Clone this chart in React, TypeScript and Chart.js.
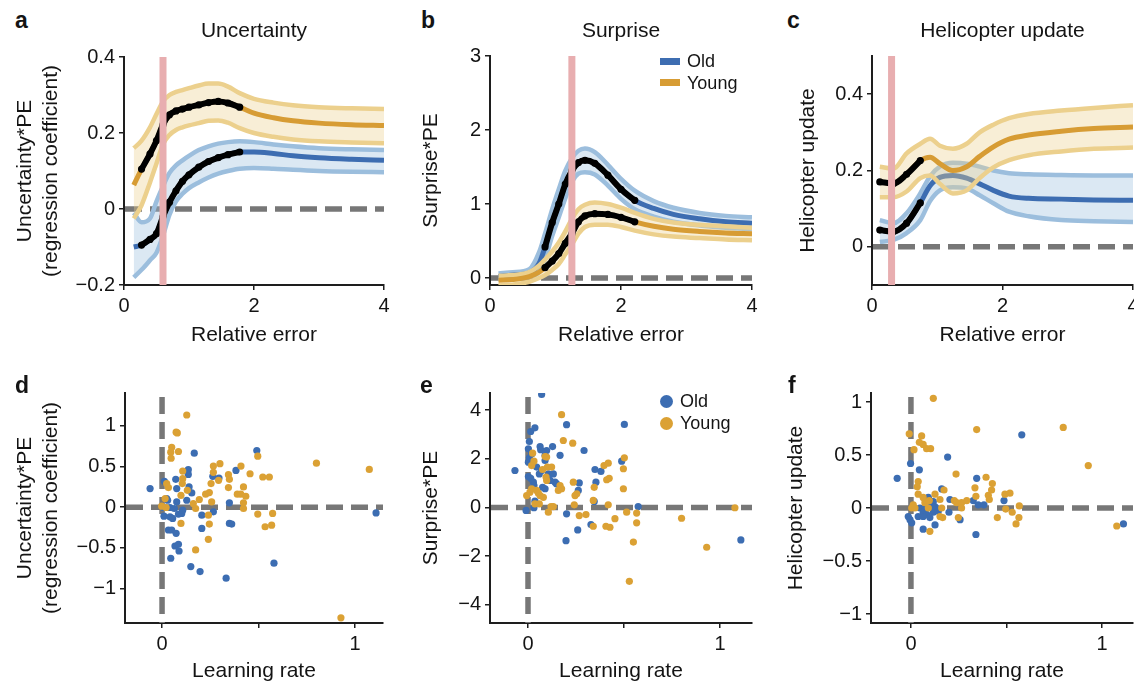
import React, { useEffect, useRef } from 'react';
import { Chart, registerables } from 'chart.js';

Chart.register(...registerables);

const FONT = '"Liberation Sans", Arial, Helvetica, sans-serif';
const TEXT = '#141414';
const AXIS = '#1e1e1e';
const OLD = '#3d6db1';
const OLD_CI = '#9cbedd';
const OLD_FILL = 'rgba(156,190,221,0.36)';
const YOUNG = '#d79c34';
const YOUNG_CI = '#ecd08d';
const YOUNG_FILL = 'rgba(236,208,141,0.36)';
const OLD_DOT = '#3c6db2';
const YOUNG_DOT = '#dba134';
const PINK = '#e8aeb0';
const DASH = '#777777';

// ---------- Panel a: Uncertainty ----------
const relErrA = [0.15, 0.27, 0.4, 0.5, 0.6, 0.7, 0.8, 0.9, 1.0, 1.15, 1.3, 1.45, 1.6, 1.78, 2.0, 2.3, 2.6, 3.0, 3.5, 4.0];
const oldMeanA = [-0.1, -0.095, -0.08, -0.065, -0.02, 0.018, 0.048, 0.073, 0.09, 0.11, 0.125, 0.135, 0.143, 0.15, 0.15, 0.146, 0.14, 0.135, 0.131, 0.128];
const oldUpA = [-0.01, -0.035, -0.025, 0.02, 0.06, 0.095, 0.115, 0.128, 0.14, 0.155, 0.165, 0.172, 0.176, 0.178, 0.176, 0.17, 0.165, 0.16, 0.157, 0.155];
const oldLoA = [-0.18, -0.16, -0.135, -0.115, -0.07, -0.015, 0.02, 0.04, 0.055, 0.07, 0.083, 0.093, 0.1, 0.106, 0.108, 0.106, 0.103, 0.1, 0.098, 0.097];
const youngMeanA = [0.063, 0.105, 0.145, 0.18, 0.222, 0.248, 0.258, 0.263, 0.268, 0.274, 0.28, 0.283, 0.279, 0.268, 0.252, 0.24, 0.232, 0.226, 0.222, 0.22];
const youngUpA = [0.16, 0.18, 0.215, 0.25, 0.283, 0.3, 0.308, 0.313, 0.318, 0.325, 0.33, 0.33, 0.322, 0.305, 0.29, 0.28, 0.273, 0.268, 0.265, 0.263];
const youngLoA = [-0.025, 0.01, 0.07, 0.12, 0.17, 0.195, 0.208, 0.215, 0.22, 0.226, 0.232, 0.233, 0.227, 0.213, 0.2, 0.19, 0.183, 0.178, 0.175, 0.173];
const sigOldA = [0.27, 1.78];
const sigYoungA = [0.27, 1.78];
const thresholdA = 0.6;

// ---------- Panel b: Surprise ----------
const relErrB = [0.13, 0.35, 0.6, 0.75, 0.84, 0.95, 1.05, 1.15, 1.25, 1.35, 1.45, 1.6, 1.8, 2.0, 2.21, 2.5, 2.8, 3.2, 3.6, 4.0];
const oldMeanB = [0.02, 0.04, 0.07, 0.2, 0.42, 0.75, 1.0, 1.27, 1.45, 1.56, 1.59, 1.55, 1.39, 1.2, 1.05, 0.94, 0.86, 0.8, 0.76, 0.74];
const oldUpB = [0.06, 0.08, 0.12, 0.35, 0.6, 0.93, 1.2, 1.45, 1.62, 1.72, 1.75, 1.7, 1.53, 1.34, 1.18, 1.04, 0.95, 0.88, 0.84, 0.82];
const oldLoB = [-0.02, 0.0, 0.02, 0.08, 0.25, 0.57, 0.82, 1.08, 1.3, 1.41, 1.43, 1.4, 1.25, 1.07, 0.93, 0.83, 0.76, 0.71, 0.68, 0.66];
const youngMeanB = [-0.03, -0.02, 0.02, 0.08, 0.14, 0.23, 0.33, 0.47, 0.6, 0.76, 0.84, 0.87, 0.86, 0.82, 0.76, 0.7, 0.66, 0.63, 0.61, 0.6];
const youngUpB = [0.03, 0.04, 0.08, 0.17, 0.25, 0.36, 0.48, 0.63, 0.8, 0.93, 0.99, 1.02, 1.0, 0.95, 0.88, 0.8, 0.75, 0.72, 0.7, 0.68];
const youngLoB = [-0.1, -0.09, -0.05, 0.0, 0.04, 0.11, 0.19, 0.32, 0.45, 0.6, 0.69, 0.72, 0.72, 0.69, 0.64, 0.59, 0.56, 0.54, 0.52, 0.51];
const sigOldB = [0.84, 2.21];
const sigYoungB = [0.84, 2.21];
const thresholdB = 1.25;

// ---------- Panel c: Helicopter update ----------
const relErrC = [0.12, 0.33, 0.53, 0.74, 0.89, 1.04, 1.24, 1.45, 1.65, 1.86, 2.1, 2.4, 2.9, 3.4, 4.0];
const oldMeanC = [0.044, 0.04, 0.062, 0.115, 0.16, 0.182, 0.187, 0.18, 0.165, 0.148, 0.133, 0.127, 0.125, 0.123, 0.122];
const oldUpC = [0.07, 0.062, 0.088, 0.14, 0.185, 0.21, 0.22, 0.218, 0.21, 0.2, 0.193, 0.19, 0.188, 0.187, 0.187];
const oldLoC = [0.013, 0.018, 0.036, 0.07, 0.12, 0.148, 0.156, 0.153, 0.135, 0.114, 0.092, 0.08, 0.07, 0.067, 0.065];
const youngMeanC = [0.17, 0.166, 0.19, 0.226, 0.235, 0.218, 0.2, 0.21, 0.237, 0.262, 0.282, 0.293, 0.303, 0.31, 0.314];
const youngUpC = [0.21, 0.205, 0.245, 0.27, 0.283, 0.265, 0.257, 0.27, 0.3, 0.32, 0.337, 0.348, 0.357, 0.364, 0.371];
const youngLoC = [0.13, 0.13, 0.145, 0.18, 0.187, 0.165, 0.14, 0.148, 0.18, 0.208, 0.227, 0.24, 0.25, 0.257, 0.26];
const sigOldC = [0.12, 0.74];
const sigYoungC = [0.12, 0.74];
const thresholdC = 0.3;

// ---------- Panel d: Uncertainty*PE vs learning rate ----------
const lrOldD = [-0.062, 0.012, 0.024, 0.007, 0.01, 0.029, 0.041, 0.041, 0.055, 0.033, 0.05, 0.071, 0.076, 0.076, 0.064, 0.085, 0.102, 0.073, 0.067, 0.085, 0.088, 0.045, 0.107, 0.128, 0.136, 0.136, 0.14, 0.154, 0.167, 0.206, 0.206, 0.149, 0.197, 0.263, 0.295, 0.266, 0.349, 0.349, 0.361, 0.332, 0.383, 0.491, 0.58, 1.109];
const uncOldD = [0.228, 0.317, 0.106, -0.004, -0.11, 0.085, -0.004, -0.118, -0.138, -0.28, -0.28, 0.341, 0.228, 0.065, -0.016, -0.085, -0.077, -0.321, -0.476, -0.455, -0.537, -0.626, -0.037, 0.085, 0.46, 0.402, 0.248, 0.175, 0.662, -0.098, -0.26, -0.728, -0.789, 0.378, 0.357, -0.057, 0.053, -0.199, -0.207, -0.87, 0.451, 0.695, -0.687, -0.07];
const lrYoungD = [0.128, 0.073, 0.079, 0.05, 0.085, 0.045, 0.047, 0.107, 0.107, 0.105, 0.024, 0.033, 0.016, 0.021, -0.002, 0.098, 0.098, 0.131, 0.162, 0.174, 0.193, 0.226, 0.245, 0.266, 0.266, 0.3, 0.254, 0.257, 0.24, 0.245, 0.24, 0.174, 0.293, 0.344, 0.349, 0.344, 0.409, 0.39, 0.408, 0.434, 0.422, 0.422, 0.422, 0.456, 0.496, 0.496, 0.522, 0.556, 0.534, 0.568, 0.573, 0.8, 1.074, 0.927];
const uncYoungD = [1.13, 0.92, 0.91, 0.735, 0.683, 0.675, 0.6, 0.443, 0.35, 0.289, 0.289, 0.24, 0.106, -0.004, 0.012, 0.146, -0.199, 0.207, 0.045, -0.016, 0.094, 0.159, 0.179, 0.427, 0.504, 0.533, 0.289, 0.065, -0.098, -0.207, -0.394, -0.524, 0.329, 0.398, 0.341, 0.24, 0.504, 0.159, 0.159, 0.134, 0.248, 0.053, -0.016, 0.41, 0.626, -0.085, 0.37, 0.37, -0.24, -0.22, -0.077, 0.54, 0.463, -1.357];

// ---------- Panel e: Surprise*PE vs learning rate ----------
const lrOldE = [0.071, -0.068, -0.01, 0.014, 0.036, 0.007, 0.002, 0.007, 0.002, 0.019, 0.002, 0.014, 0.028, 0.031, 0.045, 0.059, 0.063, 0.066, 0.071, 0.076, 0.089, 0.089, 0.097, 0.106, 0.115, 0.089, 0.128, 0.132, 0.141, 0.149, 0.167, 0.201, 0.201, 0.262, 0.267, 0.259, 0.292, 0.349, 0.354, 0.38, 0.345, 0.328, 0.198, 0.488, 0.502, 0.574, 1.109, 0.036, 0.031];
const surOldE = [4.64, 1.52, -0.12, 3.12, 3.27, 2.71, 2.41, 2.04, 1.86, 2.2, 1.27, 1.2, 1.04, 0.9, 1.66, 1.38, 2.5, 2.37, 1.52, 0.83, 2.14, 1.93, 2.34, 1.38, 1.11, 0.77, 2.5, 1.38, 1.04, 0.97, 2.14, 3.4, -0.26, 0.7, 1.01, -0.92, 2.34, 1.56, 1.04, 1.48, 0.25, -0.7, -1.36, 1.9, 3.41, 0.04, -1.33, 0.26, -0.01];
const lrYoungE = [0.175, 0.184, 0.233, 0.024, 0.031, 0.019, 0.089, 0.097, 0.076, 0.101, 0.123, 0.094, 0.097, 0.167, 0.175, 0.158, -0.007, 0.01, 0.019, 0.045, 0.054, 0.063, 0.08, 0.036, 0.059, 0.12, 0.132, 0.106, 0.236, 0.254, 0.245, 0.241, 0.267, 0.302, 0.34, 0.345, 0.396, 0.418, 0.41, 0.423, 0.34, 0.406, 0.427, 0.418, 0.453, 0.497, 0.502, 0.497, 0.514, 0.566, 0.566, 0.549, 0.528, 0.8, 0.931, 1.078];
const surYoungE = [3.81, 2.75, 2.64, 2.23, 1.9, 1.72, 2.09, 2.07, 1.56, 1.66, 1.66, 1.25, 1.11, 0.9, 0.77, 0.7, 0.49, 0.63, 0.77, 0.7, 0.59, 0.49, 0.42, 0.15, 0.15, 0.04, 0.04, -0.19, 1.04, 0.56, 0.49, 0.11, -0.33, -0.29, 0.29, 0.83, 1.72, 1.82, 1.14, 1.2, -0.77, -0.77, -0.81, 0.11, -0.46, 1.59, 2.04, 0.77, -0.19, -0.23, -0.63, -1.42, -3.03, -0.44, -1.63, -0.01];

// ---------- Panel f: Helicopter update vs learning rate ----------
const lrOldF = [-0.002, 0.044, -0.072, 0.192, 0.161, 0.344, 0.091, 0.099, 0.117, 0.108, 0.047, 0.073, 0.064, 0.082, 0.117, 0.143, 0.038, -0.014, -0.005, 0.004, 0.064, 0.099, 0.126, 0.126, 0.064, 0.199, 0.257, 0.326, 0.352, 0.382, 0.487, 0.34, 0.58, 1.112, 0.204];
const updOldF = [0.42, 0.36, 0.28, 0.48, 0.18, 0.28, 0.1, 0.07, 0.06, 0.02, 0.0, -0.01, -0.04, -0.06, -0.04, -0.03, -0.08, -0.08, -0.11, -0.14, -0.08, -0.09, 0.01, -0.16, -0.2, -0.04, -0.11, 0.07, 0.03, 0.03, 0.07, -0.25, 0.69, -0.15, 0.08];
const lrYoungF = [0.117, 0.344, 0.797, 0.928, -0.009, 0.056, 0.016, 0.044, 0.064, 0.082, 0.103, 0.038, 0.033, 0.038, 0.064, 0.073, 0.012, 0.004, 0.021, 0.096, 0.091, 0.126, 0.152, 0.161, 0.173, 0.152, 0.166, 0.099, 0.236, 0.227, 0.239, 0.265, 0.265, 0.248, 0.292, 0.335, 0.34, 0.393, 0.405, 0.41, 0.422, 0.426, 0.492, 0.518, 0.496, 0.452, 0.53, 0.55, 0.567, 0.565, 1.077];
const updYoungF = [1.035, 0.74, 0.76, 0.4, 0.7, 0.68, 0.55, 0.62, 0.6, 0.56, 0.56, 0.25, 0.2, 0.13, 0.1, 0.05, 0.03, 0.0, 0.0, 0.07, 0.0, 0.13, 0.08, 0.0, 0.17, -0.08, -0.09, -0.22, 0.32, 0.07, 0.05, 0.05, 0.0, -0.09, 0.07, 0.19, 0.11, 0.29, 0.12, 0.08, 0.17, 0.23, 0.13, 0.14, -0.01, -0.09, -0.04, -0.15, 0.02, -0.09, -0.17];

// ---------- ticks ----------
const relErrTicks = [0, 2, 4];
const relErrTickLabels = ['0', '2', '4'];
const lrTicks = [0, 0.5, 1];
const lrTickLabels = ['0', '', '1'];
const yTicksA = [-0.2, 0, 0.2, 0.4];
const yTickLabelsA = ['\u22120.2', '0', '0.2', '0.4'];
const yTicksB = [0, 1, 2, 3];
const yTickLabelsB = ['0', '1', '2', '3'];
const yTicksC = [0, 0.2, 0.4];
const yTickLabelsC = ['0', '0.2', '0.4'];
const yTicksD = [-1, -0.5, 0, 0.5, 1];
const yTickLabelsD = ['\u22121', '\u22120.5', '0', '0.5', '1'];
const yTicksE = [-4, -2, 0, 2, 4];
const yTickLabelsE = ['\u22124', '\u22122', '0', '2', '4'];
const yTicksF = [-1, -0.5, 0, 0.5, 1];
const yTickLabelsF = ['\u22121', '\u22120.5', '0', '0.5', '1'];

type Frame = {
  cx: number; cy: number; cw: number; ch: number;
  L: number; T: number; R: number; B: number;
  xMin: number; xMax: number; yMin: number; yMax: number;
  xTicks: number[]; xTickLabels: string[]; yTicks: number[]; yTickLabels: string[];
  xTitle: string; yTitle: string | string[]; yTitlePad: number; xTitlePad: number;
};

const refLines = {
  id: 'refLines',
  beforeDatasetsDraw(chart: any, _a: any, o: any) {
    const { ctx, chartArea: a, scales } = chart;
    ctx.save();
    ctx.beginPath();
    ctx.rect(a.left, a.top, a.right - a.left, a.bottom - a.top);
    ctx.clip();
    ctx.strokeStyle = DASH;
    ctx.lineWidth = 5.5;
    ctx.setLineDash([17, 8]);
    if (o.hLine !== undefined && o.hLine !== null) {
      const y = scales.y.getPixelForValue(o.hLine);
      ctx.beginPath();
      ctx.moveTo(a.left + 1, y);
      ctx.lineTo(a.right + 20, y);
      ctx.stroke();
    }
    if (o.vLine !== undefined && o.vLine !== null) {
      const x = scales.x.getPixelForValue(o.vLine);
      ctx.beginPath();
      ctx.moveTo(x, a.top + 4);
      ctx.lineTo(x, a.bottom);
      ctx.stroke();
    }
    ctx.restore();
  },
  afterDatasetsDraw(chart: any, _a: any, o: any) {
    if (o.band === undefined || o.band === null) return;
    const { ctx, chartArea: a, scales } = chart;
    const x = scales.x.getPixelForValue(o.band);
    ctx.save();
    ctx.fillStyle = PINK;
    ctx.fillRect(x - 3.5, a.top, 7, a.bottom - a.top);
    ctx.restore();
  },
};

function scalesFor(f: Frame) {
  const tickFont = { family: FONT, size: 20 };
  const titleFont = { family: FONT, size: 21, lineHeight: 1.25 };
  const grid = { display: true, drawOnChartArea: false, drawTicks: true, tickLength: 5, color: AXIS, lineWidth: 1.5 };
  const border = { display: true, color: AXIS, width: 2 };
  return {
    x: {
      type: 'linear',
      min: f.xMin,
      max: f.xMax,
      afterBuildTicks: (s: any) => { s.ticks = f.xTicks.map((v) => ({ value: v })); },
      afterFit: (s: any) => { s.height = f.cy + f.ch - f.B; },
      ticks: { autoSkip: false, maxRotation: 0, minRotation: 0, padding: 4, color: TEXT, font: tickFont, callback: (_v: any, i: number) => f.xTickLabels[i] },
      grid,
      border,
      title: { display: true, text: f.xTitle, color: TEXT, font: titleFont, padding: { top: 0, bottom: f.xTitlePad } },
    },
    y: {
      type: 'linear',
      min: f.yMin,
      max: f.yMax,
      afterBuildTicks: (s: any) => { s.ticks = f.yTicks.map((v) => ({ value: v })); },
      afterFit: (s: any) => { s.width = f.L - f.cx; },
      ticks: { autoSkip: false, padding: 4, color: TEXT, font: tickFont, callback: (_v: any, i: number) => f.yTickLabels[i] },
      grid,
      border,
      title: { display: true, text: f.yTitle, color: TEXT, font: titleFont, padding: { top: f.yTitlePad, bottom: 0 } },
    },
  };
}

function baseOptions(f: Frame, refOpts: any) {
  return {
    responsive: false,
    maintainAspectRatio: false,
    animation: false,
    devicePixelRatio: 1,
    events: [],
    layout: { padding: { left: 0, bottom: 0, top: f.T - f.cy, right: f.cx + f.cw - f.R } },
    plugins: { legend: { display: false }, tooltip: { enabled: false }, refLines: refOpts },
    scales: scalesFor(f),
  };
}

type BandSeries = {
  x: number[];
  oldMean: number[]; oldUp: number[]; oldLo: number[];
  youngMean: number[]; youngUp: number[]; youngLo: number[];
  sigOld: number[]; sigYoung: number[]; threshold: number;
};

function bandConfig(f: Frame, s: BandSeries) {
  const pts = (ys: number[]) => s.x.map((x, i) => ({ x, y: ys[i] }));
  const sig = (ys: number[], r: number[]) => pts(ys).filter((p) => p.x >= r[0] - 1e-9 && p.x <= r[1] + 1e-9);
  const line = (data: any[], color: string, w: number, order: number, extra: any = {}) => ({
    data, borderColor: color, borderWidth: w, pointRadius: 0, fill: false,
    cubicInterpolationMode: 'monotone', order, borderCapStyle: 'butt', ...extra,
  });
  const dots = { pointRadius: 3.6, pointBackgroundColor: '#000', pointBorderWidth: 0, borderCapStyle: 'round' };
  return {
    type: 'line',
    data: {
      datasets: [
        line(pts(s.oldLo), OLD_CI, 4.5, 8),
        line(pts(s.oldUp), OLD_CI, 4.5, 7, { fill: { target: 0, above: OLD_FILL, below: OLD_FILL } }),
        line(pts(s.oldMean), OLD, 5, 6),
        line(pts(s.youngLo), YOUNG_CI, 4.5, 5),
        line(pts(s.youngUp), YOUNG_CI, 4.5, 4, { fill: { target: 3, above: YOUNG_FILL, below: YOUNG_FILL } }),
        line(pts(s.youngMean), YOUNG, 5, 3),
        line(sig(s.oldMean, s.sigOld), '#000', 6, 1, dots),
        line(sig(s.youngMean, s.sigYoung), '#000', 6, 1, dots),
      ],
    },
    options: baseOptions(f, { hLine: 0, band: s.threshold }),
    plugins: [refLines],
  };
}

function scatterConfig(f: Frame, ox: number[], oy: number[], yx: number[], yy: number[]) {
  const zip = (xs: number[], ys: number[]) => xs.map((x, i) => ({ x, y: ys[i] }));
  const ds = (data: any[], color: string, order: number) => ({
    data, backgroundColor: color, borderWidth: 0, pointRadius: 3.6, pointHoverRadius: 3.6, order,
  });
  return {
    type: 'scatter',
    data: { datasets: [ds(zip(ox, oy), OLD_DOT, 2), ds(zip(yx, yy), YOUNG_DOT, 1)] },
    options: baseOptions(f, { hLine: 0, vLine: 0 }),
    plugins: [refLines],
  };
}

const uncTitle = ['Uncertainty*PE', '(regression coefficient)'];

const frameA: Frame = { cx: 0, cy: 40, cw: 398, ch: 310, L: 124, T: 57, R: 384, B: 285, xMin: 0, xMax: 4, yMin: -0.2, yMax: 0.4, xTicks: relErrTicks, xTickLabels: relErrTickLabels, yTicks: yTicksA, yTickLabels: yTickLabelsA, xTitle: 'Relative error', yTitle: uncTitle, yTitlePad: 12, xTitlePad: 2 };
const frameB: Frame = { cx: 400, cy: 40, cw: 366, ch: 310, L: 490, T: 55, R: 752, B: 285, xMin: 0, xMax: 4, yMin: -0.094, yMax: 3, xTicks: relErrTicks, xTickLabels: relErrTickLabels, yTicks: yTicksB, yTickLabels: yTickLabelsB, xTitle: 'Relative error', yTitle: 'Surprise*PE', yTitlePad: 18, xTitlePad: 2 };
const frameC: Frame = { cx: 780, cy: 40, cw: 366, ch: 310, L: 872, T: 55, R: 1133, B: 285, xMin: 0, xMax: 4, yMin: -0.1, yMax: 0.5, xTicks: relErrTicks, xTickLabels: relErrTickLabels, yTicks: yTicksC, yTickLabels: yTickLabelsC, xTitle: 'Relative error', yTitle: 'Helicopter update', yTitlePad: 15, xTitlePad: 2 };
const frameD: Frame = { cx: 0, cy: 370, cw: 397, ch: 315, L: 125, T: 393, R: 383, B: 623, xMin: -0.192, xMax: 1.145, yMin: -1.42, yMax: 1.4, xTicks: lrTicks, xTickLabels: lrTickLabels, yTicks: yTicksD, yTickLabels: yTickLabelsD, xTitle: 'Learning rate', yTitle: uncTitle, yTitlePad: 12, xTitlePad: 1 };
const frameE: Frame = { cx: 400, cy: 370, cw: 366, ch: 315, L: 490, T: 393, R: 752, B: 623, xMin: -0.198, xMax: 1.167, yMin: -4.74, yMax: 4.7, xTicks: lrTicks, xTickLabels: lrTickLabels, yTicks: yTicksE, yTickLabels: yTickLabelsE, xTitle: 'Learning rate', yTitle: 'Surprise*PE', yTitlePad: 18, xTitlePad: 1 };
const frameF: Frame = { cx: 770, cy: 370, cw: 376, ch: 315, L: 871, T: 393, R: 1133, B: 623, xMin: -0.209, xMax: 1.162, yMin: -1.085, yMax: 1.085, xTicks: lrTicks, xTickLabels: lrTickLabels, yTicks: yTicksF, yTickLabels: yTickLabelsF, xTitle: 'Learning rate', yTitle: 'Helicopter update', yTitlePad: 13, xTitlePad: 1 };

function Panel({ frame, build }: { frame: Frame; build: () => any }) {
  const ref = useRef<HTMLCanvasElement | null>(null);
  useEffect(() => {
    const chart = new Chart(ref.current as HTMLCanvasElement, build());
    return () => chart.destroy();
  }, []);
  return (
    <canvas
      ref={ref}
      width={frame.cw}
      height={frame.ch}
      style={{ position: 'absolute', left: frame.cx, top: frame.cy, width: frame.cw, height: frame.ch }}
    />
  );
}

function Txt({ x, y, size, bold, children, w, center }: any) {
  return (
    <div
      style={{
        position: 'absolute', left: center ? x - w / 2 : x, top: y, width: w, textAlign: center ? 'center' : 'left',
        fontFamily: FONT, fontSize: size, lineHeight: `${size}px`, fontWeight: bold ? 700 : 400, color: TEXT, whiteSpace: 'nowrap',
      }}
    >
      {children}
    </div>
  );
}

export default function App() {
  return (
    <div style={{ position: 'fixed', left: 0, top: 0, width: 1134, height: 685, overflow: 'hidden', background: '#fff' }}>
      <Panel frame={frameA} build={() => bandConfig(frameA, { x: relErrA, oldMean: oldMeanA, oldUp: oldUpA, oldLo: oldLoA, youngMean: youngMeanA, youngUp: youngUpA, youngLo: youngLoA, sigOld: sigOldA, sigYoung: sigYoungA, threshold: thresholdA })} />
      <Panel frame={frameB} build={() => bandConfig(frameB, { x: relErrB, oldMean: oldMeanB, oldUp: oldUpB, oldLo: oldLoB, youngMean: youngMeanB, youngUp: youngUpB, youngLo: youngLoB, sigOld: sigOldB, sigYoung: sigYoungB, threshold: thresholdB })} />
      <Panel frame={frameC} build={() => bandConfig(frameC, { x: relErrC, oldMean: oldMeanC, oldUp: oldUpC, oldLo: oldLoC, youngMean: youngMeanC, youngUp: youngUpC, youngLo: youngLoC, sigOld: sigOldC, sigYoung: sigYoungC, threshold: thresholdC })} />
      <Panel frame={frameD} build={() => scatterConfig(frameD, lrOldD, uncOldD, lrYoungD, uncYoungD)} />
      <Panel frame={frameE} build={() => scatterConfig(frameE, lrOldE, surOldE, lrYoungE, surYoungE)} />
      <Panel frame={frameF} build={() => scatterConfig(frameF, lrOldF, updOldF, lrYoungF, updYoungF)} />

      <Txt x={15} y={8.5} size={23} bold>a</Txt>
      <Txt x={421} y={8.5} size={23} bold>b</Txt>
      <Txt x={787} y={8.5} size={23} bold>c</Txt>
      <Txt x={15} y={373.5} size={23} bold>d</Txt>
      <Txt x={420} y={373.5} size={23} bold>e</Txt>
      <Txt x={788} y={373.5} size={23} bold>f</Txt>

      <Txt x={254} y={19} size={21} w={300} center>Uncertainty</Txt>
      <Txt x={621} y={19} size={21} w={300} center>Surprise</Txt>
      <Txt x={1002.5} y={19} size={21} w={300} center>Helicopter update</Txt>

      <div style={{ position: 'absolute', left: 660, top: 58, width: 20, height: 7, background: OLD }} />
      <div style={{ position: 'absolute', left: 660, top: 79, width: 20, height: 7, background: YOUNG }} />
      <Txt x={687} y={52} size={18}>Old</Txt>
      <Txt x={687} y={74} size={18}>Young</Txt>

      <div style={{ position: 'absolute', left: 660, top: 394.5, width: 13, height: 13, borderRadius: '50%', background: OLD_DOT }} />
      <div style={{ position: 'absolute', left: 660, top: 416.5, width: 13, height: 13, borderRadius: '50%', background: YOUNG_DOT }} />
      <Txt x={680} y={392} size={18}>Old</Txt>
      <Txt x={680} y={414} size={18}>Young</Txt>
    </div>
  );
}
